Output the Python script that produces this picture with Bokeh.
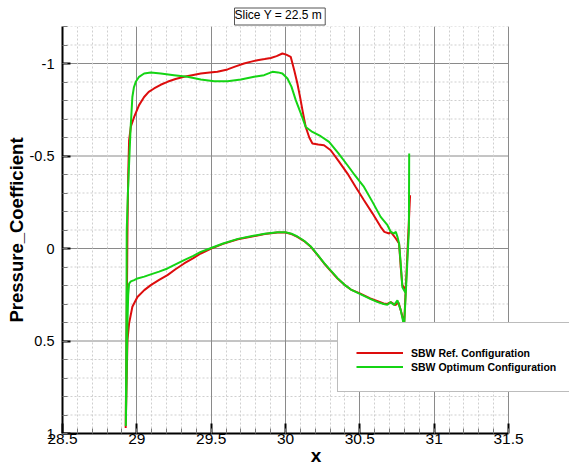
from bokeh.plotting import figure
from bokeh.models import Range1d, FixedTicker, NumeralTickFormatter, Legend, LegendItem, Title
from bokeh.embed import file_html
from bokeh.resources import INLINE

# ---------------- data ----------------
x_ticks = [28.5, 29.0, 29.5, 30.0, 30.5, 31.0, 31.5]
y_ticks = [-1.0, -0.5, 0.0, 0.5, 1.0]

ref_upper_x = [28.925, 28.930, 28.935, 28.937, 28.942, 28.948, 28.960, 28.982, 29.015, 29.049,
               29.080, 29.116, 29.160, 29.206, 29.260, 29.318, 29.380, 29.430, 29.490, 29.542,
               29.610, 29.660, 29.721, 29.770, 29.811, 29.860, 29.901, 29.940, 29.979, 30.005,
               30.035, 30.060, 30.080, 30.100, 30.114, 30.136, 30.160, 30.181, 30.220, 30.259,
               30.304, 30.360, 30.417, 30.470, 30.528, 30.585, 30.640, 30.665, 30.697, 30.708,
               30.742, 30.764, 30.775, 30.786, 30.810]
ref_upper_cp = [0.97, 0.50, 0.10, -0.10, -0.40, -0.585, -0.66, -0.711, -0.775, -0.819,
                -0.847, -0.865, -0.885, -0.901, -0.916, -0.928, -0.938, -0.946, -0.951, -0.955,
                -0.968, -0.983, -1.000, -1.010, -1.018, -1.024, -1.030, -1.040, -1.054, -1.048,
                -1.036, -0.960, -0.892, -0.810, -0.748, -0.657, -0.600, -0.568, -0.562, -0.558,
                -0.531, -0.470, -0.405, -0.335, -0.261, -0.190, -0.117, -0.090, -0.081, -0.090,
                -0.054, -0.027, 0.099, 0.198, 0.225]

ref_lower_x = [28.925, 28.937, 28.948, 28.970, 29.004, 29.050, 29.094, 29.150, 29.206, 29.260,
               29.318, 29.380, 29.430, 29.500, 29.580, 29.680, 29.767, 29.860, 29.946, 30.000,
               30.040, 30.080, 30.125, 30.170, 30.215, 30.260, 30.305, 30.350, 30.395, 30.440,
               30.500, 30.570, 30.620, 30.660, 30.685, 30.708, 30.740, 30.760, 30.775, 30.790,
               30.798, 30.838]
ref_lower_cp = [0.97, 0.496, 0.405, 0.315, 0.262, 0.225, 0.198, 0.170, 0.144, 0.112,
                0.081, 0.052, 0.027, 0.000, -0.025, -0.050, -0.063, -0.078, -0.086, -0.086,
                -0.078, -0.063, -0.040, -0.009, 0.035, 0.081, 0.122, 0.162, 0.195, 0.222,
                0.243, 0.270, 0.285, 0.297, 0.300, 0.290, 0.306, 0.292, 0.333, 0.380,
                0.410, -0.288]

opt_upper_x = [28.926, 28.930, 28.932, 28.940, 28.948, 28.958, 28.970, 28.980, 28.993, 29.015,
               29.049, 29.094, 29.161, 29.250, 29.340, 29.430, 29.520, 29.610, 29.700, 29.789,
               29.856, 29.912, 29.950, 29.979, 30.013, 30.040, 30.069, 30.103, 30.136, 30.181,
               30.237, 30.293, 30.355, 30.417, 30.470, 30.528, 30.585, 30.640, 30.686, 30.708,
               30.730, 30.742, 30.753, 30.764, 30.775, 30.786, 30.810]
opt_upper_cp = [0.96, 0.40, -0.099, -0.30, -0.459, -0.65, -0.819, -0.870, -0.901, -0.928,
                -0.946, -0.951, -0.946, -0.937, -0.928, -0.913, -0.904, -0.904, -0.913, -0.928,
                -0.937, -0.955, -0.952, -0.946, -0.919, -0.875, -0.802, -0.730, -0.657, -0.630,
                -0.607, -0.576, -0.515, -0.450, -0.392, -0.333, -0.252, -0.171, -0.126, -0.090,
                -0.081, -0.090, -0.063, -0.027, 0.081, 0.210, 0.243]

opt_lower_x = [28.926, 28.937, 28.942, 28.948, 28.960, 28.982, 29.004, 29.050, 29.094, 29.150,
               29.206, 29.260, 29.318, 29.380, 29.430, 29.500, 29.580, 29.680, 29.767, 29.860,
               29.946, 30.000, 30.040, 30.080, 30.125, 30.170, 30.215, 30.260, 30.305, 30.350,
               30.395, 30.440, 30.500, 30.570, 30.620, 30.660, 30.685, 30.708, 30.730, 30.753,
               30.775, 30.790, 30.798, 30.830, 30.832]
opt_lower_cp = [0.96, 0.40, 0.25, 0.19, 0.178, 0.171, 0.162, 0.152, 0.140, 0.125,
                0.108, 0.086, 0.063, 0.040, 0.018, -0.003, -0.027, -0.052, -0.066, -0.080,
                -0.088, -0.088, -0.080, -0.065, -0.042, -0.011, 0.033, 0.079, 0.120, 0.160,
                0.195, 0.222, 0.245, 0.272, 0.290, 0.300, 0.304, 0.290, 0.306, 0.280,
                0.333, 0.390, 0.420, -0.100, -0.513]

series_names = ["SBW Ref. Configuration", "SBW Optimum Configuration"]
series_colors = ["#dd0d0d", "#14d414"]

# ---------------- figure ----------------
FONT = "Liberation Sans"
W, H = 569, 470
LEFT, TOP, BOTTOM = 62, 26, 37
px_per_unit = 446.0 / (x_ticks[-1] - x_ticks[0])
x_end = x_ticks[0] + (W - LEFT) / px_per_unit   # frame runs to the right edge so the legend is not clipped

p = figure(width=W, height=H, output_backend="svg", toolbar_location=None,
           x_range=Range1d(x_ticks[0], x_end), y_range=Range1d(1.0, -1.2),
           min_border_left=LEFT, min_border_right=0, min_border_top=TOP, min_border_bottom=BOTTOM)
p.outline_line_color = None
p.background_fill_color = "white"
p.border_fill_color = "white"

x_minor = [round(28.5 + 0.1 * i, 1) for i in range(31)]
y_minor = [round(-1.2 + 0.1 * i, 1) for i in range(23)]
p.xaxis.ticker = FixedTicker(ticks=x_ticks, minor_ticks=x_minor)
p.yaxis.ticker = FixedTicker(ticks=y_ticks, minor_ticks=y_minor)
p.xaxis.bounds = (x_ticks[0], x_ticks[-1])
p.xaxis.formatter = NumeralTickFormatter(format="0.[0]")
p.yaxis.formatter = NumeralTickFormatter(format="0.[0]")

for ax in (p.xaxis[0], p.yaxis[0]):
    ax.axis_line_color = "black"
    ax.axis_line_width = 2
    ax.major_tick_out = 0
    ax.minor_tick_out = 0
    ax.major_tick_line_color = "black"
    ax.major_tick_line_width = 2
    ax.minor_tick_line_color = "#777777"
    ax.minor_tick_line_width = 1
    ax.major_label_text_font = FONT
    ax.major_label_text_color = "black"
    ax.axis_label_text_font = FONT
    ax.axis_label_text_font_style = "bold"
    ax.axis_label_text_color = "black"
p.xaxis.major_tick_in = 10
p.xaxis.minor_tick_in = 5
p.yaxis.major_tick_in = 8
p.yaxis.minor_tick_in = 5
p.xaxis.major_label_text_font_size = "15.5px"
p.yaxis.major_label_text_font_size = "14.5px"
p.xaxis.major_label_standoff = 0
p.yaxis.major_label_standoff = 8
p.xaxis.axis_label = "x"
p.xaxis.axis_label_text_font_size = "19px"
p.xaxis.axis_label_standoff = -2
p.yaxis.axis_label = "Pressure_Coefficient"
p.yaxis.axis_label_text_font_size = "18.5px"
p.yaxis.axis_label_standoff = 0

# vertical grid lines from the x grid
g = p.xgrid[0]
g.grid_line_color = "#8a8a8a"
g.grid_line_width = 1
g.minor_grid_line_color = "#cfcfcf"
g.minor_grid_line_width = 1
g.minor_grid_line_dash = "2 2"
# horizontal grid lines limited to the axis extent
p.ygrid.visible = False
y_minor_only = [v for v in y_minor if v not in y_ticks]
p.segment(x0=[x_ticks[0]] * len(y_minor_only), x1=[x_ticks[-1]] * len(y_minor_only),
          y0=y_minor_only, y1=y_minor_only, line_color="#cfcfcf", line_width=1,
          line_dash="2 2", level="underlay")
y_major_inner = y_ticks[:-1]
p.segment(x0=[x_ticks[0]] * len(y_major_inner), x1=[x_ticks[-1]] * len(y_major_inner),
          y0=y_major_inner, y1=y_major_inner, line_color="#8a8a8a", line_width=1,
          level="underlay")

# curves: each configuration drawn as lower surface (TE spike -> LE) then upper (LE -> TE)
rx = list(reversed(ref_lower_x)) + ref_upper_x
ry = list(reversed(ref_lower_cp)) + ref_upper_cp
gx = list(reversed(opt_lower_x)) + opt_upper_x
gy = list(reversed(opt_lower_cp)) + opt_upper_cp
r_ref = p.line(rx, ry, line_color=series_colors[0], line_width=2)
r_opt = p.line(gx, gy, line_color=series_colors[1], line_width=2)

legend = Legend(items=[LegendItem(label=series_names[0], renderers=[r_ref]),
                       LegendItem(label=series_names[1], renderers=[r_opt])],
                location=(275, 41), orientation="vertical",
                title=" ", title_text_font_size="1px", title_standoff=4,
                glyph_width=47, glyph_height=13, label_height=13, label_width=190,
                label_standoff=8, spacing=1, padding=18, margin=0,
                border_line_color="#7a7a7a", border_line_width=1,
                background_fill_color="white", background_fill_alpha=1.0,
                label_text_font=FONT, label_text_font_size="10.5px",
                label_text_font_style="bold", label_text_color="black")
p.add_layout(legend, "center")

p.title = Title(text="Slice Y = 22.5 m", align="left", offset=172, standoff=3,
                text_font=FONT, text_font_size="12px", text_font_style="normal",
                text_color="black", border_line_color="#555555", border_line_width=1,
                background_fill_color="white", padding=(0, 3, 0, 3))

open("out.html", "w").write(file_html(p, INLINE))
